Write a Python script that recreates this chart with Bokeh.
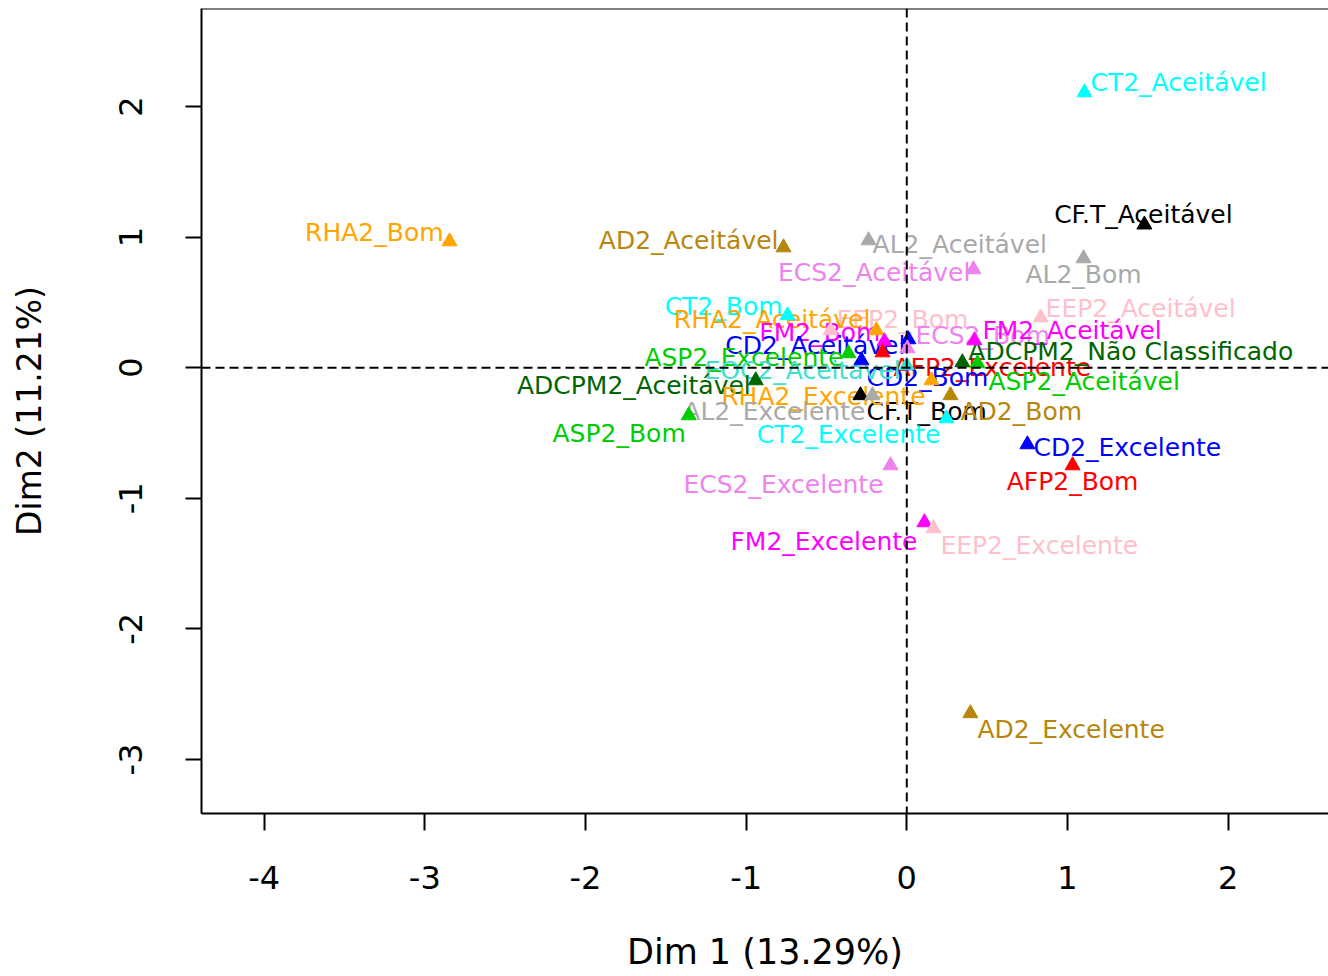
from bokeh.plotting import figure
from bokeh.models import Span, FixedTicker, ColumnDataSource
from bokeh.core.properties import value
from bokeh.embed import file_html
from bokeh.resources import INLINE

# ---- data ----
variables = ["CT2", "CF.T", "RHA2", "AD2", "AL2", "ECS2", "AL2", "EEP2", "CT2", "EEP2",
             "RHA2", "FM2", "CD2", "ECS2", "FM2", "AFP2", "ASP2", "CD2", "EOC2", "ADCPM2",
             "ASP2", "ADCPM2", "RHA2", "CF.T", "AL2", "AD2", "ASP2", "CT2", "CD2", "AFP2",
             "ECS2", "FM2", "EEP2", "AD2"]
levels = ["Aceitável", "Aceitável", "Bom", "Aceitável", "Aceitável", "Aceitável", "Bom", "Aceitável", "Bom", "Bom",
          "Aceitável", "Bom", "Aceitável", "Bom", "Aceitável", "Excelente", "Excelente", "Bom", "Aceitável", "Não Classificado",
          "Aceitável", "Aceitável", "Excelente", "Bom", "Excelente", "Bom", "Bom", "Excelente", "Excelente", "Bom",
          "Excelente", "Excelente", "Excelente", "Excelente"]
dim1 = [1.106, 1.479, -2.846, -0.767, -0.238, 0.415, 1.100, 0.833, -0.742, -0.475,
        -0.189, -0.139, 0.010, 0.004, 0.421, -0.151, -0.363, -0.282, 0.000, 0.346,
        0.440, -0.940, 0.154, -0.288, -0.214, 0.272, -1.357, 0.247, 0.751, 1.032,
        -0.101, 0.110, 0.166, 0.396]
dim2 = [2.107, 1.095, 0.966, 0.920, 0.974, 0.752, 0.836, 0.384, 0.400, 0.285,
        0.285, 0.201, 0.216, 0.147, 0.208, 0.116, 0.109, 0.055, 0.017, 0.040,
        0.032, -0.098, -0.098, -0.212, -0.212, -0.212, -0.366, -0.389, -0.588, -0.749,
        -0.749, -1.185, -1.231, -2.647]
x_ticks = [-4, -3, -2, -1, 0, 1, 2]
y_ticks = [-3, -2, -1, 0, 1, 2]
x_tick_labels = ["-4", "-3", "-2", "-1", "0", "1", "2"]
y_tick_labels = ["-3", "-2", "-1", "0", "1", "2"]
x_title = "Dim 1 (13.29%)"
y_title = "Dim2 (11.21%)"

# ---- styles ----
var_colors = {"AD2": "#B8860B", "AL2": "#A9A9A9", "AFP2": "#FF0000", "ADCPM2": "#006400",
              "ASP2": "#00CD00", "CD2": "#0000FF", "CF.T": "#000000", "CT2": "#00FFFF",
              "ECS2": "#EE82EE", "EEP2": "#FFC0CB", "EOC2": "#40E0D0", "FM2": "#FF00FF",
              "RHA2": "#FFA500"}
label_align = ["left", "center", "right", "right", "left", "right", "center", "left", "right", "left",
               "right", "right", "right", "left", "left", "left", "right", "left", "right", "left",
               "left", "right", "right", "left", "right", "left", "right", "right", "left", "center",
               "right", "right", "left", "left"]
label_dx = [6, -1, -6, -5, 4, -3, 0, 5, -5, 6,
            -6, -4, -3, 8, 8, 11, -5, 5, -6, 6,
            11, -5, -6, 6, -7, 10, -3, -6, 6, 0,
            -7, -7, 7, 7]
label_dy = [-10, -10, -9, -7, 4, 3, 16, -9, -9, -11,
            -11, -9, 6, -13, -10, 15, 4, 17, 5, -11,
            18, 5, 16, 16, 16, 16, 18, 16, 3, 16,
            19, 19, 17, 16]

FONT = "DejaVu Sans"

p = figure(width=1328, height=976, output_backend="svg", toolbar_location=None,
           x_range=(-4.390, 2.625), y_range=(-3.414, 2.750),
           min_border_left=201, min_border_top=8, min_border_bottom=163, min_border_right=0)
p.grid.visible = False
p.outline_line_color = None
p.background_fill_color = "white"

for ax in (p.xaxis[0], p.yaxis[0]):
    ax.axis_line_width = 2
    ax.axis_line_color = "black"
    ax.major_tick_line_width = 2
    ax.major_tick_in = 0
    ax.minor_tick_line_color = None
    ax.major_label_text_font = FONT
    ax.major_label_text_font_size = "32px"
    ax.major_label_text_color = "black"
    ax.axis_label_text_font = FONT
    ax.axis_label_text_font_style = "normal"
    ax.axis_label_text_color = "black"

p.xaxis[0].ticker = FixedTicker(ticks=x_ticks)
p.yaxis[0].ticker = FixedTicker(ticks=y_ticks)
p.xaxis[0].major_label_overrides = {t: s for t, s in zip(x_ticks, x_tick_labels)}
p.yaxis[0].major_label_overrides = {t: s for t, s in zip(y_ticks, y_tick_labels)}
p.xaxis[0].major_tick_out = 17
p.yaxis[0].major_tick_out = 16
p.xaxis[0].major_label_standoff = 35
p.yaxis[0].major_label_standoff = 43
p.yaxis[0].major_label_orientation = "vertical"
p.xaxis[0].axis_label = x_title
p.yaxis[0].axis_label = y_title
p.xaxis[0].axis_label_text_font_size = "35px"
p.yaxis[0].axis_label_text_font_size = "33px"
p.xaxis[0].axis_label_standoff = 40
p.yaxis[0].axis_label_standoff = 68

# box top and reference lines
p.add_layout(Span(location=2.750, dimension="width", line_color="black", line_width=2))
p.add_layout(Span(location=0, dimension="width", line_color="black", line_width=2, line_dash="9 5"))
p.add_layout(Span(location=0, dimension="height", line_color="black", line_width=2, line_dash="9 5"))

labels = [f"{v}_{l}" for v, l in zip(variables, levels)]
colors = [var_colors[v] for v in variables]
src = ColumnDataSource(dict(x=dim1, y=dim2, label=labels, color=colors))

for a in ("left", "center", "right"):
    idx = [i for i, al in enumerate(label_align) if al == a]
    s = ColumnDataSource(dict(x=[dim1[i] for i in idx], y=[dim2[i] for i in idx],
                              label=[labels[i] for i in idx], color=[colors[i] for i in idx],
                              dx=[label_dx[i] for i in idx], dy=[label_dy[i] for i in idx]))
    p.text(x="x", y="y", text="label", source=s, x_offset="dx", y_offset="dy",
           text_color="color", text_align=a, text_baseline="middle",
           text_font=value(FONT), text_font_size="25px")

p.scatter(x="x", y="y", source=src, marker="triangle", size=15,
          fill_color="color", line_color="color")

open("out.html", "w").write(file_html(p, INLINE))
